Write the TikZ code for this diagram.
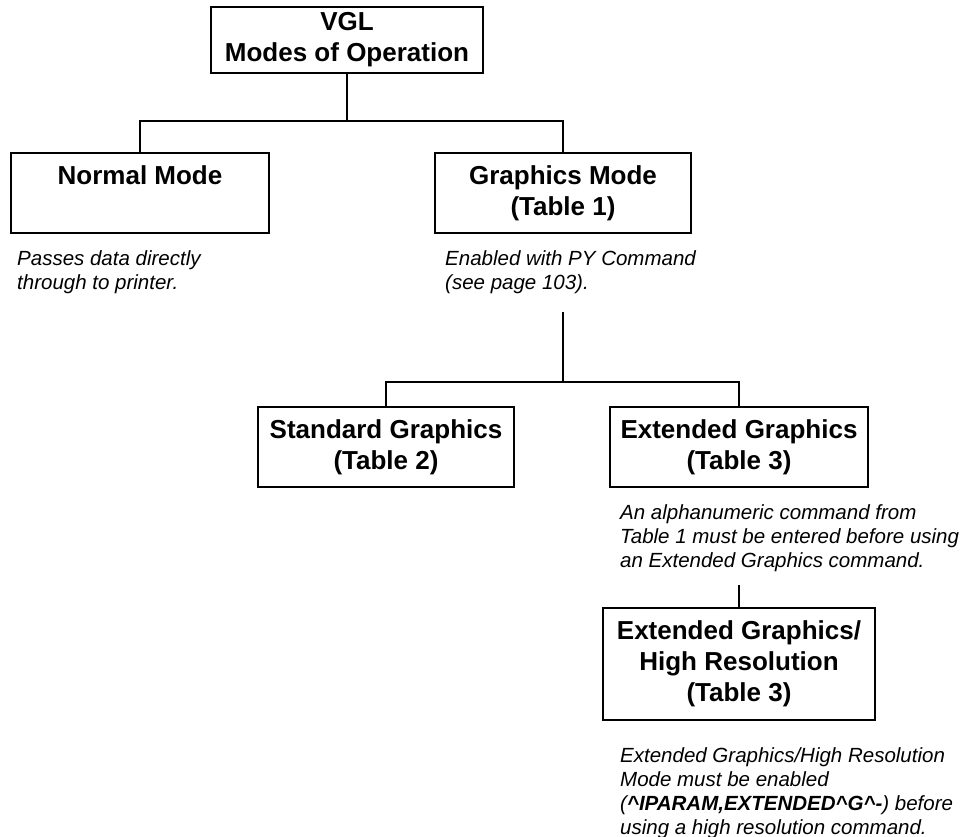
\documentclass[tikz,border=0pt]{standalone}
\usepackage{fontspec}
\setmainfont{Liberation Sans}
\begin{document}
\begin{tikzpicture}[x=1pt,y=-1pt,
  box/.style={draw, line width=2.4pt, inner sep=0pt, align=center, font=\bfseries\fontsize{26}{31}\selectfont},
  capt/.style={anchor=north west, inner sep=0pt, align=left, font=\itshape\fontsize{20.5}{24}\selectfont},
  conn/.style={line width=1.8pt}]
\useasboundingbox (0,0) rectangle (972,837);
% boxes
\node[box, minimum width=272pt, minimum height=66pt] (vgl) at (347,40) {VGL\\Modes of Operation};
\node[box, minimum width=258pt, minimum height=80pt] (normal) at (140,193) {Normal Mode\\\phantom{(Table 1)}};
\node[box, minimum width=256pt, minimum height=80pt] (graphics) at (563,193) {Graphics Mode\\(Table 1)};
\node[box, minimum width=256pt, minimum height=80pt] (std) at (386,447) {Standard Graphics\\(Table 2)};
\node[box, minimum width=258pt, minimum height=80pt] (ext) at (739,447) {Extended Graphics\\(Table 3)};
\node[box, minimum width=272pt, minimum height=112pt] (hires) at (739,664) {Extended Graphics/\\High Resolution\\(Table 3)};
% captions
\node[capt] (capnormal) at (17,248.2) {\strut Passes data directly\\through to printer.};
\node[capt] (capgraphics) at (445,248.2) {\strut Enabled with PY Command\\(see page 103).};
\node[capt] (capext) at (620,502.2) {\strut An alphanumeric command from\\Table 1 must be entered before using\\an Extended Graphics command.};
\node[capt] (caphires) at (620,745.2) {\strut Extended Graphics/High Resolution\\Mode must be enabled\\(\textbf{\textasciicircum IPARAM,EXTENDED\textasciicircum G\textasciicircum -}) before\\using a high resolution command.};
% connectors
\coordinate (j1) at (347,121);
\draw[conn] (vgl.south) -- (j1);
\draw[conn] (j1) -| (normal.north);
\draw[conn] (j1) -| (graphics.north);
\coordinate (gtop) at (563,312);
\coordinate (j2) at (563,382);
\draw[conn] (gtop) -- (j2);
\draw[conn] (j2) -| (std.north);
\draw[conn] (j2) -| (ext.north);
\coordinate (etop) at (739,585);
\draw[conn] (etop) -- (hires.north);
\end{tikzpicture}
\end{document}
